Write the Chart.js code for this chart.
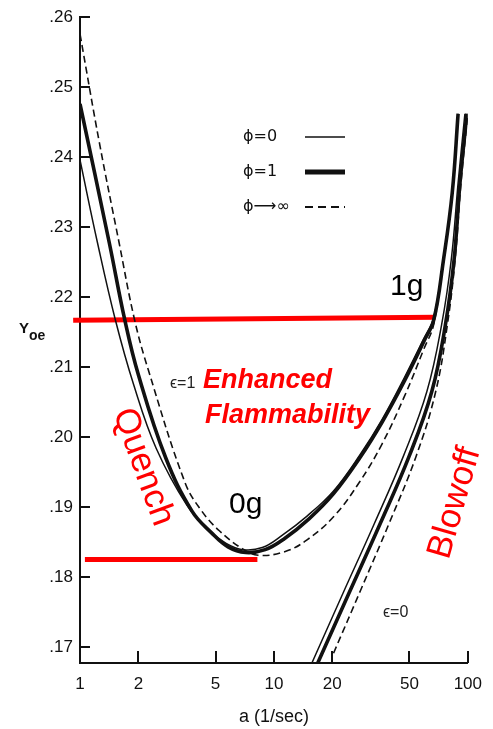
<!DOCTYPE html>
<html lang="en">
<head>
<meta charset="UTF-8">
<title>Yoe vs strain rate</title>
<script src="https://cdn.jsdelivr.net/npm/chart.js"></script>
<style>
  body { margin: 0; background: #fff; }
  #wrap { width: 493px; height: 729px; }
</style>
</head>
<body>
<div id="wrap"><canvas id="flameChart" width="493" height="729"></canvas></div>
<script>
// axis ticks
var xTicks = [1, 2, 5, 10, 20, 50, 100];
var yTicks = [.17, .18, .19, .20, .21, .22, .23, .24, .25, .26];

// epsilon = 1 branch (quench side)
var thinA  = [1, 1.23, 1.52, 1.89, 2.47, 3.57, 4.66, 5.67, 6.9, 8.71, 10.97, 14.82, 20.3, 27.7, 36.1, 47.1, 59.4, 66.7, 74.8, 83.1, 89.1];
var thinY  = [.2396, .2278, .2168, .2075, .1984, .1902, .1866, .1848, .1839, .1842, .1859, .1887, .1923, .1974, .2025, .2085, .2141, .2171, .2254, .2349, .2462];
var thickA = [1, 1.415, 1.70, 2.0, 2.77, 3.78, 4.77, 5.80, 7.15, 9.01, 11.36, 15.17, 20.3, 27.7, 36.1, 47.1, 59.4, 66.7, 74.8, 83.1, 89.1];
var thickY = [.2476, .2278, .2168, .2089, .1970, .1894, .1863, .1843, .1835, .1839, .1855, .1883, .1919, .1970, .2021, .2080, .2137, .2167, .2252, .2349, .2462];
var dashA  = [1, 1.26, 1.59, 1.91, 2.25, 3.49, 4.25, 5.23, 6.9, 8.31, 11.36, 14.82, 20.3, 27.7, 36.1, 47.1, 59.4, 66.7, 74.8, 83.1, 89.1];
var dashY  = [.2576, .2420, .2278, .2168, .2096, .1934, .1894, .1866, .1840, .1831, .1836, .1853, .1886, .1936, .1990, .2058, .2126, .2161, .2254, .2349, .2462];

// epsilon = 0 branch (blowoff side)
var blowThinA  = [15.7, 22.74, 32.93, 46.6, 61.5, 73.2, 82.2, 89.1, 96.6];
var blowThinY  = [.1677, .1777, .1876, .1973, .2065, .2160, .2254, .2363, .2462];
var blowThickA = [16.83, 24.4, 35.3, 49.9, 65.2, 76.6, 85.0, 91.1, 98.9];
var blowThickY = [.1677, .1777, .1876, .1973, .2065, .2160, .2254, .2363, .2462];
var blowDashA  = [20.3, 28.0, 39.2, 54.2, 68.3, 78.4, 86.0, 92.2, 100];
var blowDashY  = [.1691, .1781, .1876, .1973, .2065, .2160, .2254, .2363, .2462];

// red 1g / 0g marker lines
var oneGA  = [0.922, 68.3];
var oneGY  = [.2167, .2171];
var zeroGA = [1.06, 8.22];
var zeroGY = [.1825, .1825];

function pts(xs, ys) {
    return xs.map(function (x, i) { return {x: x, y: ys[i]}; });
}

var FONT = '"Liberation Sans", Arial, "DejaVu Sans", sans-serif';

function curve(data, width, dash) {
    return {
        data: data,
        borderColor: '#111',
        borderWidth: width,
        borderDash: dash || [],
        pointRadius: 0,
        fill: false,
        tension: 0.4
    };
}

function redLine(data) {
    return {
        data: data,
        borderColor: '#ff0000',
        borderWidth: 5,
        pointRadius: 0,
        fill: false,
        clip: false
    };
}

// legend rows and free text, drawn on top of the plot
var legendRows = [
    {text: 'ϕ=0', y: 137, width: 1.6, dash: []},
    {text: 'ϕ=1', y: 172, width: 5, dash: []},
    {text: 'ϕ⟶∞', y: 207, width: 2, dash: [8, 5]}
];

var notes = [
    {text: '1g', x: 390, y: 295, font: '30px ' + FONT, color: '#000', rot: 0},
    {text: '0g', x: 229, y: 513, font: '30px ' + FONT, color: '#000', rot: 0},
    {text: 'Enhanced', x: 203, y: 388, font: 'italic bold 27px ' + FONT, color: '#ff0000', rot: 0},
    {text: 'Flammability', x: 205, y: 423, font: 'italic bold 27px ' + FONT, color: '#ff0000', rot: 0},
    {text: 'Quench', x: 143, y: 467, font: '35px ' + FONT, color: '#ff0000', rot: 70},
    {text: 'Blowoff', x: 455, y: 503, font: '35px ' + FONT, color: '#ff0000', rot: -74},
    {text: 'ϵ=1', x: 170, y: 388, font: '16px ' + FONT, color: '#222', rot: 0},
    {text: 'ϵ=0', x: 383, y: 617, font: '16px ' + FONT, color: '#222', rot: 0}
];

var overlay = {
    id: 'overlay',
    afterDraw: function (chart) {
        var ctx = chart.ctx;
        var xs = chart.scales.x, ys = chart.scales.y;
        var area = chart.chartArea;
        ctx.save();

        // tick marks point into the plot
        ctx.strokeStyle = '#111';
        ctx.lineWidth = 2;
        yTicks.forEach(function (v) {
            var py = Math.round(ys.getPixelForValue(v));
            ctx.beginPath();
            ctx.moveTo(area.left, py);
            ctx.lineTo(area.left + 10, py);
            ctx.stroke();
        });
        xTicks.forEach(function (v) {
            if (v === 1) return;
            var px = Math.round(xs.getPixelForValue(v));
            ctx.beginPath();
            ctx.moveTo(px, area.bottom);
            ctx.lineTo(px, area.bottom - 12);
            ctx.stroke();
        });

        // legend
        ctx.fillStyle = '#111';
        ctx.textBaseline = 'middle';
        ctx.textAlign = 'left';
        ctx.font = '16px "DejaVu Sans", sans-serif';
        legendRows.forEach(function (r) {
            ctx.fillText(r.text, 243, r.y);
            ctx.lineWidth = r.width;
            ctx.setLineDash(r.dash);
            ctx.beginPath();
            ctx.moveTo(305, r.y);
            ctx.lineTo(345, r.y);
            ctx.stroke();
        });
        ctx.setLineDash([]);

        // annotations
        notes.forEach(function (n) {
            ctx.save();
            ctx.font = n.font;
            ctx.fillStyle = n.color;
            ctx.translate(n.x, n.y);
            if (n.rot) {
                ctx.rotate(n.rot * Math.PI / 180);
                ctx.textAlign = 'center';
                ctx.textBaseline = 'middle';
            } else {
                ctx.textAlign = 'left';
                ctx.textBaseline = 'alphabetic';
            }
            ctx.fillText(n.text, 0, 0);
            ctx.restore();
        });

        // y axis label Y_oe
        ctx.fillStyle = '#111';
        ctx.textAlign = 'left';
        ctx.textBaseline = 'alphabetic';
        ctx.font = 'bold 15px ' + FONT;
        ctx.fillText('Y', 19, 333);
        ctx.font = 'bold 14px ' + FONT;
        ctx.fillText('oe', 29, 340);

        ctx.restore();
    }
};

var ctx = document.getElementById('flameChart').getContext('2d');

var flameChart = new Chart(ctx, {
    type: 'line',
    data: {
        datasets: [
            curve(pts(dashA, dashY), 1.6, [7, 4]),
            curve(pts(blowDashA, blowDashY), 1.6, [7, 4]),
            curve(pts(thickA, thickY), 3.6),
            curve(pts(blowThickA, blowThickY), 3.6),
            curve(pts(thinA, thinY), 1.5),
            curve(pts(blowThinA, blowThinY), 1.5),
            redLine(pts(oneGA, oneGY)),
            redLine(pts(zeroGA, zeroGY))
        ]
    },
    options: {
        responsive: false,
        animation: false,
        devicePixelRatio: 1,
        layout: {padding: {top: 13, right: 15, left: 0, bottom: 0}},
        plugins: {legend: {display: false}, tooltip: {enabled: false}},
        scales: {
            x: {
                type: 'logarithmic',
                position: 'bottom',
                min: 1,
                max: 100,
                afterBuildTicks: function (s) {
                    s.ticks = xTicks.map(function (v) { return {value: v}; });
                },
                afterFit: function (s) { s.height = 66; },
                grid: {display: false, drawTicks: false},
                border: {display: true, color: '#111', width: 2},
                ticks: {
                    autoSkip: false, maxRotation: 0, padding: 11, color: '#111',
                    font: {family: FONT, size: 17},
                    callback: function (v) { return String(v); }
                },
                title: {
                    display: true, text: 'a (1/sec)', color: '#111',
                    font: {family: FONT, size: 18},
                    padding: {top: 0, bottom: 1}
                }
            },
            y: {
                type: 'linear',
                min: .1677,
                max: .26,
                afterBuildTicks: function (s) {
                    s.ticks = yTicks.map(function (v) { return {value: v}; });
                },
                afterFit: function (s) { s.width = 80; },
                grid: {display: false, drawTicks: false},
                border: {display: true, color: '#111', width: 2},
                ticks: {
                    padding: 7, color: '#111',
                    font: {family: FONT, size: 17},
                    callback: function (v) { return v.toFixed(2).slice(1); }
                }
            }
        }
    },
    plugins: [overlay]
});
</script>
</body>
</html>
